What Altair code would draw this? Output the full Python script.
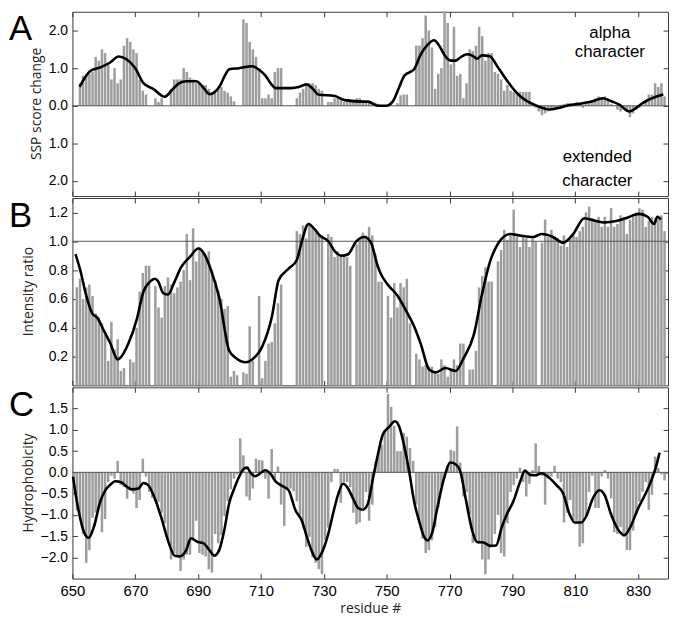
import altair as alt
import pandas as pd

# ---------------- data ----------------
residues = list(range(650, 839))

ssp_score = [
    None, None, 0.6, 0.8, 0.8, 0.85, 0.9, 1.3, 1.2, 1.5,
    1.4, 1.1, 0.7, 1.0, 0.6, 0.7, 1.6, 1.8, 1.7, 1.5,
    1.4, 0.7, 0.4, 0.3, None, None, 0.2, 0.1, 0.2, None,
    None, 0.45, 0.7, 0.7, 0.7, 1.0, 0.9, 0.75, 0.7, 0.6,
    0.6, 0.55, 0.55, 0.45, 0.3, 0.35, 0.45, 0.5, 0.4, 0.35,
    0.25, 0.12, None, None, 2.3, 2.2, 1.7, 1.5, 1.3, 1.0,
    0.2, 0.2, 0.3, 0.2, 0.9, 1.0, 1.0, None, None, None,
    None, 0.2, 0.35, 0.45, 0.55, 0.6, 0.6, 0.55, 0.45, 0.4,
    None, 0.1, 0.1, 0.2, 0.2, 0.15, 0.1, 0.1, 0.1, 0.1,
    0.2, 0.2, 0.1, 0.1, 0.1, 0.08, 0.08, 0.05, None, None,
    None, None, None, 0.07, 0.28, 0.3, 0.3, None, None, 1.6,
    1.6, 1.8, 2.4, 2.0, 1.55, 0.45, 0.85, 1.0, 2.5, 2.2,
    1.1, 2.1, 0.8, 0.85, 0.2, 0.6, 1.5, 1.45, 1.6, 2.1,
    1.85, 1.2, 1.4, 1.4, 0.9, 0.85, 0.7, 0.4, 0.55, 0.4,
    0.37, 0.37, 0.37, 0.37, 0.37, 0.37, None, -0.05, -0.15, -0.25,
    -0.2, -0.15, -0.1, -0.1, -0.05, 0.03, 0.05, 0.07, 0.07, 0.07,
    0.1, 0.05, -0.05, 0.05, 0.1, 0.15, 0.2, 0.25, 0.2, 0.25,
    0.15, 0.05, 0.02, -0.1, -0.15, -0.1, -0.15, -0.3, -0.2, -0.1,
    -0.05, 0.02, 0.1, 0.3, 0.3, 0.6, 0.5, 0.6, 0.25,
]

intensity_ratio = [
    None, 0.68, 0.74, 0.60, 0.68, 0.70, 0.62, 0.50, 0.47, 0.43,
    0.35, 0.17, 0.44, 0.25, 0.32, 0.10, 0.12, None, 0.18, 0.16,
    0.40, 0.65, 0.78, 0.83, 0.83, None, 0.69, 0.54, 0.47, 0.69,
    0.75, 0.70, 0.64, 0.68, 0.72, 0.80, 1.05, 0.73, 1.09, 0.86,
    0.96, 0.92, 0.90, 0.93, 0.80, 0.73, 0.66, 0.60, 0.53, 0.55,
    0.06, 0.10, 0.07, None, 0.09, 0.08, 0.41, 0.17, None, 0.62,
    0.05, 0.17, 0.29, 0.30, 0.43, 0.57, 0.70, None, None, None,
    None, 1.07, 1.05, 1.11, 1.02, 1.11, 1.10, 1.07, 1.05, 1.04,
    None, 1.05, 1.03, 0.89, 0.93, 0.91, 0.91, 0.89, 0.83, None,
    0.98, 1.02, 1.06, 1.04, 1.10, 1.04, 0.91, 0.72, 0.72, None,
    0.62, 0.47, 0.71, 0.54, 0.71, 0.68, 0.74, 0.43, None, 0.22,
    0.18, 0.13, 0.14, 0.13, 0.13, 0.10, 0.08, 0.18, 0.14, 0.06,
    0.11, 0.18, 0.14, 0.29, 0.29, None, 0.11, 0.11, 0.24, 0.68,
    0.76, 0.82, 0.72, 0.72, None, 0.86, 0.94, 1.08, 1.01, 1.04,
    1.22, 1.03, 0.96, 1.03, 1.02, 0.96, 1.02, 1.00, None, 0.99,
    1.15, 1.03, 1.08, 1.02, 1.02, 0.97, 1.04, 0.96, 1.02, 1.05,
    1.03, 1.07, 1.10, 1.20, 1.24, 1.16, 1.14, 1.17, 1.10, 1.17,
    1.10, 1.23, 1.10, 1.12, 1.18, 1.17, 1.05, 1.15, 1.17, 1.20,
    1.23, 1.22, 1.10, 1.14, 1.17, 1.16, 1.15, 1.18, 1.07,
]

hydrophobicity = [
    -0.4, -0.9, -1.0, -1.45, -2.13, -1.83, -1.07, -0.95, -0.84, -1.41,
    -1.1, -0.23, -0.08, -0.15, 0.27, -0.3, -0.35, -0.62, -0.4, -0.5,
    -0.84, -0.65, 0.32, -0.1, -0.46, -0.6, -0.68, -0.7, -0.95, -1.2,
    -1.6, -2.05, -1.9, -1.98, -2.32, -2.05, -1.94, -1.94, -1.6, -1.14,
    -1.9, -1.94, -1.98, -2.28, -2.36, -1.45, -1.67, -1.48, -1.03, -0.68,
    -0.4, -0.15, -0.05, 0.8, 0.4, -0.57, -0.66, -0.38, 0.32, 0.29,
    0.28, -0.15, -0.62, 0.55, -0.15, 0.14, -0.76, -1.26, -0.37, -0.38,
    -0.45, -0.68, -1.0, -1.3, -1.75, -1.52, -2.0, -2.13, -2.28, -2.4,
    -1.6, -1.3, -0.23, 0.08, 0.08, -0.72, -0.23, -0.23, -0.35, -0.95,
    -1.22, -1.18, -0.84, -0.46, -1.14, -0.76, 0.23, 0.46, 0.65, 0.95,
    1.84, 1.54, 1.1, 0.5, 0.5, 0.93, 0.84, 0.57, 0.27, -0.76,
    -1.14, -1.56, -1.9, -1.83, -1.6, -1.29, -0.84, -0.34, -0.15, 0.1,
    0.53, 0.5, 1.08, 0.23, -0.57, -0.47, -1.0, -1.66, -1.6, -1.68,
    -2.05, -2.4, -2.05, -1.75, -1.45, -1.0, -1.9, -1.98, -1.2, -0.46,
    -0.3, -0.15, 0.11, -0.23, -0.57, -0.27, 0.05, 0.68, 0.15, -0.08,
    -0.76, -0.15, -0.1, 0.15, -0.15, -0.23, -1.18, -0.95, -0.65, -1.14,
    -1.14, -1.75, -1.67, -1.03, -0.46, -0.08, -0.84, -0.84, -0.1, 0.05,
    -0.15, -0.61, -1.41, -1.45, -1.29, -1.52, -1.83, -1.83, -1.37, -1.0,
    -0.69, -0.46, -0.23, -0.88, -0.53, 0.37, 0.1, -0.05, -0.19,
]

# smoothed curves (residue position, value)
ssp_curve_res = [652.3, 654.0, 655.8, 658.9, 662.0, 664.7, 667.3, 670.0, 672.6, 675.7,
                 679.4, 682.0, 684.0, 686.2, 689.4, 691.5, 693.6, 696.7, 698.5, 699.9,
                 703.0, 707.2, 709.5, 711.4, 713.5, 714.6, 719.8, 722.0, 724.5, 726.5,
                 728.2, 733.5, 736.6, 742.9, 744.0, 747.2, 749.8, 751.9, 754.0, 755.6,
                 758.7, 760.8, 762.9, 765.1, 766.6, 768.7, 770.3, 771.9, 773.5, 775.6,
                 777.7, 778.7, 780.3, 782.9, 785.1, 787.2, 789.8, 792.4, 794.5, 797.7,
                 801.9, 804.5, 807.2, 812.4, 815.5, 818.7, 821.5, 824.0, 827.2, 829.5,
                 831.4, 835.6, 838.0]
ssp_curve_val = [0.5, 0.75, 0.93, 1.02, 1.15, 1.31, 1.23, 1.0, 0.6, 0.45,
                 0.24, 0.45, 0.6, 0.65, 0.65, 0.5, 0.31, 0.5, 0.8, 0.97,
                 1.0, 1.05, 0.95, 0.8, 0.55, 0.47, 0.47, 0.5, 0.57, 0.45,
                 0.3, 0.26, 0.15, 0.11, 0.11, 0.0, 0.0, 0.11, 0.5, 0.8,
                 0.97, 1.36, 1.61, 1.74, 1.61, 1.31, 1.2, 1.2, 1.29, 1.37,
                 1.31, 1.25, 1.34, 1.31, 1.06, 0.8, 0.5, 0.26, 0.13, 0.0,
                 -0.1, -0.06, 0.0, 0.07, 0.12, 0.2, 0.12, 0.03, -0.15, -0.05,
                 0.07, 0.24, 0.3]

int_curve_res = [651.0, 652.6, 654.2, 656.3, 657.9, 660.0, 662.1, 664.4, 665.2, 667.8,
                 670.5, 672.6, 674.7, 676.2, 677.3, 678.9, 680.4, 682.5, 684.6, 687.3,
                 690.1, 692.0, 694.1, 696.7, 699.9, 702.0, 705.1, 707.2, 710.4, 713.5,
                 715.6, 718.8, 721.4, 723.0, 725.1, 727.2, 728.7, 731.4, 733.5, 735.6,
                 737.7, 740.3, 742.9, 745.0, 747.1, 748.0, 750.3, 753.5, 756.1, 758.7,
                 760.8, 763.5, 765.6, 768.7, 771.9, 774.5, 777.7, 780.3, 782.9, 785.6,
                 789.3, 792.4, 796.6, 799.3, 802.9, 806.1, 809.3, 812.9, 816.6, 819.3,
                 823.0, 826.1, 830.3, 833.0, 835.1, 836.1, 837.2]
int_curve_val = [0.91, 0.79, 0.64, 0.5, 0.47, 0.38, 0.29, 0.18, 0.19, 0.29,
                 0.46, 0.65, 0.72, 0.74, 0.72, 0.64, 0.63, 0.72, 0.82, 0.89,
                 0.95, 0.91, 0.8, 0.61, 0.24, 0.19, 0.16, 0.18, 0.27, 0.48,
                 0.73, 0.81, 0.87, 1.0, 1.12, 1.08, 1.04, 1.0, 0.93, 0.9,
                 0.91, 1.0, 1.03, 0.99, 0.83, 0.78, 0.70, 0.62, 0.52, 0.41,
                 0.29, 0.11, 0.09, 0.12, 0.10, 0.19, 0.35, 0.63, 0.86, 0.99,
                 1.05, 1.04, 1.03, 1.05, 1.03, 0.99, 1.05, 1.16, 1.14, 1.13,
                 1.14, 1.16, 1.19, 1.17, 1.12, 1.17, 1.15]

hyd_curve_res = [650.2, 651.0, 652.1, 653.7, 655.2, 656.8, 658.9, 660.5, 662.1, 663.6,
                 665.7, 667.3, 668.9, 671.0, 672.6, 674.1, 676.2, 678.3, 680.4, 682.5,
                 684.1, 686.2, 687.7, 689.9, 691.5, 693.6, 695.1, 696.7, 698.3, 699.9,
                 701.5, 703.0, 704.6, 705.6, 706.6, 708.2, 709.8, 711.4, 713.0, 714.6,
                 716.7, 718.8, 720.9, 723.0, 724.6, 726.2, 727.7, 729.3, 731.4, 733.0,
                 734.5, 736.1, 737.7, 739.3, 740.9, 742.4, 744.0, 745.6, 747.2, 748.7,
                 750.8, 752.6, 754.0, 755.6, 757.2, 758.7, 760.3, 761.9, 762.9, 764.5,
                 766.1, 768.2, 770.3, 771.9, 773.5, 775.1, 777.2, 778.7, 780.8, 782.9,
                 784.8, 786.6, 788.2, 790.3, 792.4, 794.0, 795.6, 797.2, 799.3, 801.4,
                 804.0, 806.1, 808.2, 809.8, 811.9, 813.5, 815.6, 817.7, 819.3, 821.4,
                 823.5, 825.6, 827.7, 829.8, 831.9, 834.0, 835.6, 836.8]
hyd_curve_val = [-0.1, -0.5, -0.95, -1.41, -1.54, -1.29, -0.68, -0.42, -0.29, -0.21,
                 -0.24, -0.34, -0.4, -0.38, -0.25, -0.3, -0.61, -1.07, -1.6, -1.96,
                 -1.98, -1.83, -1.55, -1.64, -1.66, -1.83, -1.96, -1.83, -1.37, -0.72,
                 -0.38, -0.11, 0.09, 0.11, 0.0, -0.09, -0.02, 0.05, -0.03, -0.21,
                 -0.32, -0.42, -0.88, -1.14, -1.52, -1.86, -2.05, -1.9, -1.45, -0.95,
                 -0.53, -0.27, -0.38, -0.62, -0.84, -0.88, -0.74, -0.15, 0.42, 0.88,
                 1.07, 1.2, 1.07, 0.61, 0.0, -0.68, -1.14, -1.52, -1.6, -1.41,
                 -0.84, -0.15, 0.23, 0.19, 0.0, -0.61, -1.37, -1.64, -1.65, -1.73,
                 -1.72, -1.29, -0.99, -0.68, -0.23, 0.04, -0.06, -0.07, -0.02, -0.11,
                 -0.3, -0.49, -0.99, -1.18, -1.18, -1.03, -0.61, -0.42, -0.53, -0.99,
                 -1.33, -1.48, -1.26, -0.88, -0.57, -0.23, 0.11, 0.46]

x_ticks = [650, 670, 690, 710, 730, 750, 770, 790, 810, 830]
ssp_ticks = [-2, -1, 0, 1, 2]
int_ticks = [0.2, 0.4, 0.6, 0.8, 1.0, 1.2]
hyd_ticks = [-2.0, -1.5, -1.0, -0.5, 0.0, 0.5, 1.0, 1.5]

ann_text = ["alpha", "character", "extended", "character"]
ann_res = [821, 821, 817, 817]
ann_val = [1.94, 1.43, -1.36, -2.0]

# ---------------- chart ----------------
bar_df = pd.DataFrame({"residue": residues, "ssp": ssp_score,
                       "intensity": intensity_ratio, "hydro": hydrophobicity})

W = 601
BAR = "#9d9d9d"
FRAME = "#3a3a3a"
xscale = alt.Scale(domain=[650, 839.5], nice=False, zero=False)


def panel(col, cres, cval, ydom, yticks, height, ref, letter, ytitle, title_x,
          bottom_labels, label_expr=None, ann=None):
    yscale = alt.Scale(domain=ydom, nice=False, zero=False)
    bottom_axis = alt.Axis(orient="bottom", values=x_ticks, tickSize=5, offset=-5,
                           domain=False, grid=False, labels=bottom_labels,
                           labelFontSize=15, labelPadding=5, labelFlush=False,
                           title="residue #" if bottom_labels else None,
                           titlePadding=3, titleFontSize=14)
    top_axis = alt.Axis(orient="top", values=x_ticks, tickSize=5, offset=-5,
                        domain=False, grid=False, labels=False, title=None)
    left_kw = dict(orient="left", values=yticks, tickSize=5, offset=-5, domain=False,
                   grid=False, labelPadding=5, labelFlush=False, title=None,
                   format=".1f")
    if label_expr:
        left_kw["labelExpr"] = label_expr
    left_axis = alt.Axis(**left_kw)
    right_axis = alt.Axis(orient="right", values=yticks, tickSize=5, offset=-5,
                          domain=False, grid=False, labels=False, title=None)

    bars = alt.Chart(bar_df).transform_filter(
        f"isValid(datum.{col})"
    ).transform_calculate(res_end="datum.residue + 0.8").mark_bar(color=BAR).encode(
        x=alt.X("residue:Q", scale=xscale, axis=bottom_axis),
        x2="res_end:Q",
        y=alt.Y(f"{col}:Q", scale=yscale, axis=left_axis),
        y2=alt.datum(0),
    )
    rule = alt.Chart(pd.DataFrame({"v": [ref]})).mark_rule(
        color="#555555", strokeWidth=1
    ).encode(y=alt.Y("v:Q", scale=yscale, axis=None))
    curve = alt.Chart(pd.DataFrame({"r": cres, "v": cval})).mark_line(
        color="black", strokeWidth=2.6, interpolate="monotone"
    ).encode(
        x=alt.X("r:Q", scale=xscale, axis=top_axis),
        y=alt.Y("v:Q", scale=yscale, axis=right_axis),
    )
    let = alt.Chart(pd.DataFrame({"t": [letter]})).mark_text(
        align="left", baseline="alphabetic", fontSize=35, font="Liberation Sans",
        color="black"
    ).encode(text="t:N", x=alt.value(-64), y=alt.value(29))
    yt = alt.Chart(pd.DataFrame({"t": [ytitle]})).mark_text(
        angle=270, align="center", baseline="middle", fontSize=14, font="Open Sans",
        color="#222222"
    ).encode(text="t:N", x=alt.value(title_x), y=alt.value(height / 2))
    layers = [bars, rule, curve, let, yt]
    if ann is not None:
        layers.append(
            alt.Chart(ann).mark_text(fontSize=17, font="Liberation Sans",
                                     color="black", baseline="middle").encode(
                x=alt.X("r:Q", scale=xscale, axis=None),
                y=alt.Y("v:Q", scale=yscale, axis=None),
                text="t:N",
            )
        )
    return alt.layer(*layers).resolve_axis(x="independent", y="independent").properties(
        width=W, height=height
    )


ann_df = pd.DataFrame({"t": ann_text, "r": ann_res, "v": ann_val})

pA = panel("ssp", ssp_curve_res, ssp_curve_val, [-2.4, 2.5], ssp_ticks, 186, 0.0,
           "A", "SSP score change", -36, False,
           label_expr="format(abs(datum.value), '.1f')", ann=ann_df)
pB = panel("intensity", int_curve_res, int_curve_val, [0, 1.3], int_ticks, 189, 1.0,
           "B", "Intensity ratio", -44, False)
pC = panel("hydro", hyd_curve_res, hyd_curve_val, [-2.5, 2.0], hyd_ticks, 193, 0.0,
           "C", "Hydrophobicity", -44, True)

chart = alt.vconcat(pA, pB, pC, spacing=0).properties(
    padding={"left": 0, "right": 0, "top": 0, "bottom": 0}
).configure_view(stroke=FRAME, strokeWidth=1).configure_axis(
    labelFont="Liberation Sans", labelFontSize=14, labelColor="black",
    tickColor=FRAME, tickWidth=1, titleFont="Open Sans", titleFontWeight="normal",
    titleColor="#222222"
)

chart.save("out.html", embed_options={"renderer": "svg", "actions": False})
